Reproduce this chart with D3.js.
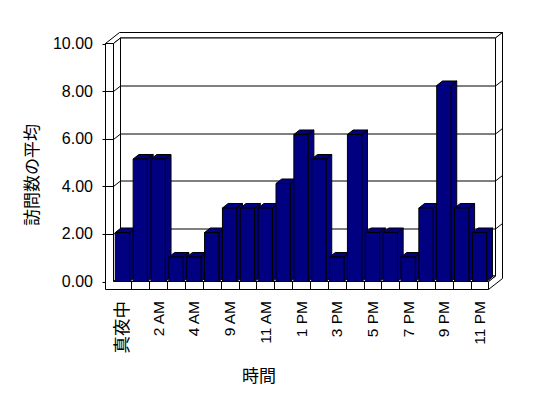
<!DOCTYPE html>
<html>
<head>
<meta charset="utf-8">
<script src="https://d3js.org/d3.v7.min.js"></script>
<style>
  body { margin: 0; background: #fff; }
  text { font-family: "Liberation Sans", "Noto Sans CJK JP", sans-serif; fill: #000; -webkit-font-smoothing: antialiased; }
</style>
</head>
<body>
<svg id="chart" width="548" height="398"></svg>
<script>
// Data
var hours = ['真夜中', '1 AM', '2 AM', '3 AM', '4 AM', '8 AM', '9 AM', '10 AM', '11 AM', '12 PM',
  '1 PM', '2 PM', '3 PM', '4 PM', '5 PM', '6 PM', '7 PM', '8 PM', '9 PM', '10 PM', '11 PM'];
var visits = [2, 5, 5, 1, 1, 2, 3, 3, 3, 4, 6, 5, 1, 6, 2, 2, 1, 3, 8, 3, 2];
var yTicks = [0, 2, 4, 6, 8, 10];
var yTitle = '訪問数の平均';
var xTitle = '時間';

// Colours
var barColour = '#000080';
var lineColour = '#000';
var wallColour = '#fff';

// Box geometry (front plane + depth vector)
var x0 = 113.5, plotW = 375;
var y0 = 281.5, yTop = 43.5, floorBottom = 289.5;
var wallT = 8;
var dx = 7, dy = -5.5;
var barDepth = 0.82;

var svg = d3.select('#chart');

var xCat = d3.scaleBand().domain(hours).range([x0, x0 + plotW]);
var xBar = d3.scaleBand().domain(hours).range([x0, x0 + plotW]).paddingInner(0.2).paddingOuter(0.1);
var yAxis = d3.scaleLinear().domain([0, 10]).range([y0, yTop]);
var yBar = d3.scaleLinear().domain([0, 10]).range([y0, y0 - 245]);

function pts(arr) {
  return arr.map(function (p) { return p[0] + ',' + p[1]; }).join(' ');
}

function face(points, fill) {
  svg.append('polygon')
    .attr('points', pts(points))
    .attr('fill', fill)
    .attr('stroke', lineColour)
    .attr('stroke-width', 1)
    .attr('stroke-linejoin', 'miter');
}

var xL = x0 - wallT, xR = x0 + plotW;

// top faces of left + back wall
face([[xL, yTop], [x0, yTop], [x0 + dx, yTop + dy], [xR + dx, yTop + dy],
  [xR + 2 * dx, yTop + 2 * dy], [xL + 2 * dx, yTop + 2 * dy]], wallColour);
// right side of back wall and floor
face([[xR, y0], [xR + dx, y0 + dy], [xR + dx, yTop + dy], [xR + 2 * dx, yTop + 2 * dy],
  [xR + 2 * dx, floorBottom + 2 * dy], [xR, floorBottom]], wallColour);
// back wall front face
face([[x0 + dx, yTop + dy], [xR + dx, yTop + dy], [xR + dx, y0 + dy], [x0 + dx, y0 + dy]], wallColour);
// left wall inner face
face([[x0, yTop], [x0 + dx, yTop + dy], [x0 + dx, y0 + dy], [x0, y0]], wallColour);
// floor top
face([[x0, y0], [xR, y0], [xR + dx, y0 + dy], [x0 + dx, y0 + dy]], wallColour);
// front of left wall + floor
face([[xL, yTop], [x0, yTop], [x0, y0], [xR, y0], [xR, floorBottom], [xL, floorBottom]], wallColour);

// floor dividers
svg.selectAll('line.divider')
  .data(hours.slice(1))
  .enter().append('line')
  .attr('class', 'divider')
  .attr('x1', function (d) { return Math.round(xCat(d)) + 0.5; })
  .attr('x2', function (d) { return Math.round(xCat(d)) + 0.5; })
  .attr('y1', y0)
  .attr('y2', floorBottom)
  .attr('stroke', lineColour);

// gridlines over left wall, back wall and right side
svg.selectAll('path.grid')
  .data(yTicks.filter(function (v) { return v > 0 && v < 10; }))
  .enter().append('path')
  .attr('class', 'grid')
  .attr('fill', 'none')
  .attr('stroke', lineColour)
  .attr('d', function (v) {
    var y = Math.round(yAxis(v)) + 0.5;
    return 'M' + (xL - 3) + ',' + y + 'L' + x0 + ',' + y +
      'L' + (x0 + dx) + ',' + (y + dy) + 'L' + (xR + dx) + ',' + (y + dy) +
      'L' + (xR + 2 * dx) + ',' + (y + 2 * dy);
  });

// outer ticks for 0 and 10
svg.selectAll('line.tick')
  .data([0, 10])
  .enter().append('line')
  .attr('class', 'tick')
  .attr('x1', xL - 3).attr('x2', xL)
  .attr('y1', function (v) { return Math.round(yAxis(v)) + 0.5; })
  .attr('y2', function (v) { return Math.round(yAxis(v)) + 0.5; })
  .attr('stroke', lineColour);

// bars, drawn left to right so the next front face covers the side
var bdx = dx * barDepth, bdy = dy * barDepth;
hours.forEach(function (h, i) {
  var x1 = xBar(h), x2 = xBar(h) + xBar.bandwidth();
  var yt = yBar(visits[i]);
  face([[x2, yt], [x2 + bdx, yt + bdy], [x2 + bdx, y0 + bdy], [x2, y0]], barColour);
  face([[x1, yt], [x2, yt], [x2 + bdx, yt + bdy], [x1 + bdx, yt + bdy]], barColour);
  face([[x1, yt], [x2, yt], [x2, y0], [x1, y0]], barColour);
});

// y tick labels
svg.selectAll('text.ylabel')
  .data(yTicks)
  .enter().append('text')
  .attr('class', 'ylabel')
  .attr('x', 93)
  .attr('y', function (v) { return yAxis(v); })
  .attr('text-anchor', 'end')
  .attr('dominant-baseline', 'central')
  .attr('font-size', 16)
  .text(function (v) { return v.toFixed(2); });

// x tick labels, every other hour
svg.selectAll('text.xlabel')
  .data(hours.filter(function (d, i) { return i % 2 === 0; }))
  .enter().append('text')
  .attr('class', 'xlabel')
  .attr('transform', function (d) {
    return 'translate(' + (xCat(d) + xCat.bandwidth() / 2) + ',301) rotate(-90)';
  })
  .attr('text-anchor', 'end')
  .attr('dominant-baseline', 'central')
  .attr('fill', '#000')
  .attr('font-size', function (d) { return /[^\x00-\x7F]/.test(d) ? 17.5 : 15.5; })
  .text(function (d) { return d; });

// axis titles
svg.append('text')
  .attr('transform', 'translate(32,175) rotate(-90)')
  .attr('text-anchor', 'middle')
  .attr('dominant-baseline', 'central')
  .attr('font-size', 17)
  .text(yTitle);

svg.append('text')
  .attr('x', 259)
  .attr('y', 376)
  .attr('text-anchor', 'middle')
  .attr('dominant-baseline', 'central')
  .attr('font-size', 17)
  .text(xTitle);
</script>
</body>
</html>
